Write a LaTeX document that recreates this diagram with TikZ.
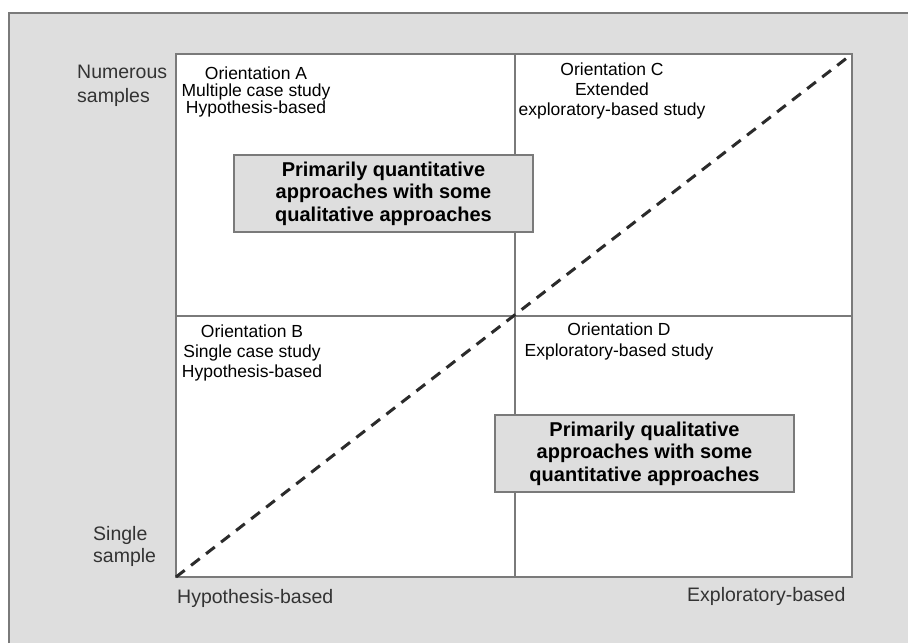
\documentclass[tikz,border=0pt]{standalone}
\usepackage{fontspec}
\setmainfont{Liberation Sans}
\definecolor{panel}{HTML}{DEDEDE}
\definecolor{rule}{HTML}{7A7A7A}
\definecolor{ink}{HTML}{333333}
\definecolor{diag}{HTML}{2B2B2B}
\begin{document}
\begin{tikzpicture}[x=1pt,y=-1pt,
  quadtext/.style={align=center, font=\fontsize{17.5}{20}\selectfont, anchor=base, inner sep=0pt},
  axistext/.style={align=left, text=ink, font=\fontsize{19.5}{24}\selectfont, anchor=base west, inner sep=0pt},
  approach/.style={draw=rule, line width=1.2pt, fill=panel, minimum width=299pt, minimum height=77pt,
    align=center, font=\bfseries\fontsize{20}{22.5}\selectfont, inner sep=0pt},
  gridline/.style={draw=rule, line width=1.3pt},
  trend/.style={draw=diag, line width=3pt, dash pattern=on 11pt off 8pt}]
\useasboundingbox (0,0) rectangle (908,643);
% grey panel behind the chart
\fill[panel] (9,13) rectangle (908,643);
\draw[rule, line width=1.5pt] (9,643) -- (9,13) -- (908,13);
% chart corners and quadrant dividers
\coordinate (sw) at (176,577);
\coordinate (ne) at (852,54);
\coordinate (midtop) at (515,54);
\coordinate (midbottom) at (515,577);
\coordinate (midleft) at (176,316);
\coordinate (midright) at (852,316);
\filldraw[fill=white, gridline] (sw) rectangle (ne);
\draw[gridline] (midtop) -- (midbottom);
\draw[gridline] (midleft) -- (midright);
\draw[trend] (sw) -- (ne);
% quadrant captions (anchored on the baseline of their last line)
\node[quadtext, font=\fontsize{17.5}{17}\selectfont] (qa) at (256,113) {Orientation A\\Multiple case study\\Hypothesis-based};
\node[quadtext, font=\fontsize{17.5}{20}\selectfont] (qc) at (612,115) {Orientation C\\Extended\\exploratory-based study};
\node[quadtext] (qb) at (252,377) {Orientation B\\Single case study\\Hypothesis-based};
\node[quadtext, font=\fontsize{17.5}{21}\selectfont] (qd) at (619,356) {Orientation D\\Exploratory-based study};
% approach boxes
\node[approach] (quant) at (383.5,193.5) {Primarily quantitative\\approaches with some\\qualitative approaches};
\node[approach] (qual) at (644.5,453.5) {Primarily qualitative\\approaches with some\\quantitative approaches};
% axis labels
\node[axistext] (ytop) at (77,102) {Numerous\\samples};
\node[axistext, font=\fontsize{19.5}{22}\selectfont] (ybottom) at (93,562) {Single\\sample};
\node[axistext] (xleft) at (177,603) {Hypothesis-based};
\node[axistext] (xright) at (687,601) {Exploratory-based};
\end{tikzpicture}
\end{document}
